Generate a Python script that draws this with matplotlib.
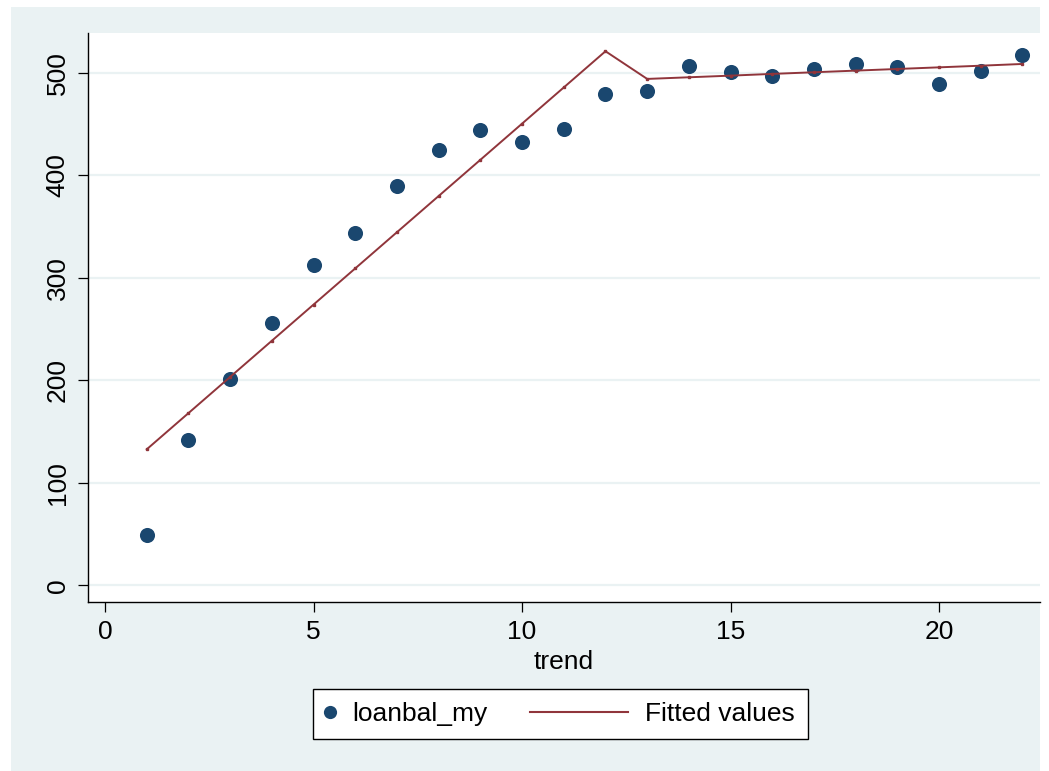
import matplotlib
matplotlib.use("Agg")
import matplotlib.pyplot as plt
from matplotlib.patches import Rectangle
from matplotlib.lines import Line2D
from matplotlib.legend_handler import HandlerLine2D

plt.rcParams['font.family'] = ['Liberation Sans', 'DejaVu Sans']

# data
trend = list(range(1, 23))
loanbal_my = [48.7, 141.4, 200.9, 255.5, 312.1, 343.3, 389.8, 424.3, 444.4, 432.1, 444.8,
              478.9, 482.1, 506.5, 500.4, 496.8, 503.3, 508.8, 505.6, 489.3, 502.0, 517.6]
fitted = [132.6, 167.9, 203.2, 238.5, 273.8, 309.1, 344.4, 379.7, 415.0, 450.3, 485.6,
          520.9, 493.9, 495.5, 497.1, 498.8, 500.4, 502.0, 503.6, 505.2, 506.8, 508.5]
xticks = [0, 5, 10, 15, 20]
yticks = [0, 100, 200, 300, 400, 500]

navy = '#1A476F'
maroon = '#90353B'
panel = '#EAF2F3'
W, H = 1049, 771
fs = 19

fig = plt.figure(figsize=(W / 100, H / 100), dpi=100, facecolor='white')
# stata style outer panel
fig.patches.append(Rectangle((11 / W, 0), (1040 - 11) / W, 1 - 7 / H,
                             transform=fig.transFigure, facecolor=panel,
                             edgecolor='none', zorder=-10))

ax = fig.add_axes([88 / W, 1 - 602 / H, (1040 - 88) / W, (602 - 33) / H])
ax.set_facecolor('white')

ax.scatter(trend, loanbal_my, s=118, color=navy, zorder=3, linewidths=0)
ax.plot(trend, fitted, color=maroon, lw=1.4, marker='s', markersize=1.8, zorder=4)

ax.set_xlim(-0.41, 22.42)
ax.set_ylim(-16.4, 538.7)
ax.set_xticks(xticks)
ax.set_yticks(yticks)
ax.grid(axis='y', color=panel, lw=1.6)
ax.set_axisbelow(True)

for side in ['top', 'right']:
    ax.spines[side].set_visible(False)
for side in ['left', 'bottom']:
    ax.spines[side].set_linewidth(1.0)
    ax.spines[side].set_color('black')

ax.tick_params(axis='both', direction='out', length=7.2, width=0.9, labelsize=fs)
ax.tick_params(axis='x', pad=6)
ax.tick_params(axis='y', pad=6)
plt.setp(ax.get_yticklabels(), rotation=90, va='center')
ax.set_xlabel('trend', fontsize=fs, labelpad=4)


class LongLine(HandlerLine2D):
    # line handle that reaches further left than the handle box
    def create_artists(self, legend, orig_handle, xdescent, ydescent, width, height, fontsize, trans):
        ext = 3.37 * fontsize
        tail = 0.04 * fontsize
        return super().create_artists(legend, orig_handle, xdescent + ext, ydescent,
                                      width + ext + tail, height, fontsize, trans)


h1 = Line2D([], [], ls='none', marker='o', markersize=9.5, color=navy, markeredgewidth=0)
h2 = Line2D([], [], color=maroon, lw=1.5)
leg = fig.legend([h1, h2], ['loanbal_my', 'Fitted values'], loc='center',
                 bbox_to_anchor=(560.5 / W, 1 - 714 / H), ncol=2, fontsize=fs,
                 frameon=True, fancybox=False, edgecolor='black', framealpha=1,
                 borderpad=0.5, handlelength=0.3, handletextpad=0.68,
                 columnspacing=5.0, handler_map={h2: LongLine()})
leg.get_frame().set_linewidth(1.0)

fig.savefig('out.png', dpi=100, facecolor='white')
